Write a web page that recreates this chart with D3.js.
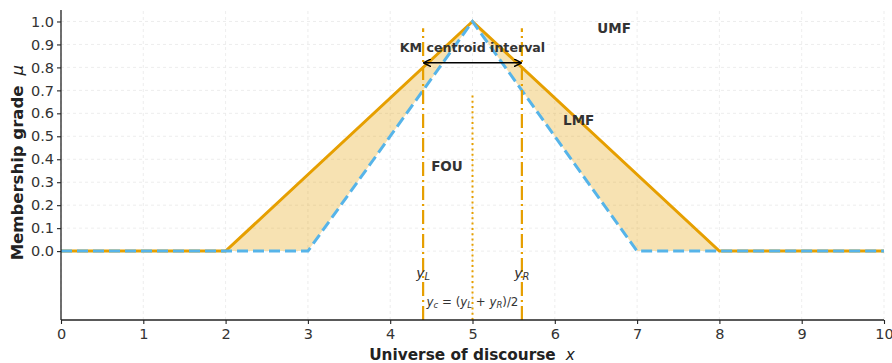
<!DOCTYPE html>
<html><head><meta charset="utf-8">
<script src="https://cdn.jsdelivr.net/npm/d3@7"></script>
<style>body{margin:0;background:#fff}svg{display:block;font-family:"DejaVu Sans",sans-serif}</style>
</head><body><svg id="c" width="892" height="363"></svg>
<script>
const umfX = [0, 2, 5, 8, 10];
const umfY = [0, 0, 1, 0, 0];
const lmfX = [0, 3, 5, 7, 10];
const lmfY = [0, 0, 1, 0, 0];
const xTicks = [0,1,2,3,4,5,6,7,8,9,10];
const yTicks = [0,0.1,0.2,0.3,0.4,0.5,0.6,0.7,0.8,0.9,1.0];
const yL = 4.4, yR = 5.6, yC = 5.0;
const arrowLevel = 0.82;

const svg = d3.select("#c");
const x = d3.scaleLinear().domain([0,10]).range([61,884]);
const y = d3.scaleLinear().domain([-0.3,1.05]).range([320,10]);
const orange = "#E69F00", blue = "#56B4E9";

// grid
const g = svg.append("g");
xTicks.forEach(t => g.append("line").attr("x1",x(t)).attr("x2",x(t)).attr("y1",y(-0.3)).attr("y2",y(1.05))
  .attr("stroke","#e8e8e8").attr("stroke-width",0.8).attr("stroke-dasharray","3,3"));
yTicks.forEach(t => g.append("line").attr("x1",x(0)).attr("x2",x(10)).attr("y1",y(t)).attr("y2",y(t))
  .attr("stroke","#e8e8e8").attr("stroke-width",0.8).attr("stroke-dasharray","3,3"));

// fill between UMF and LMF
const interp = (xs, ys, v) => { for (let i=0;i<xs.length-1;i++){ if (v>=xs[i] && v<=xs[i+1]) return ys[i]+(ys[i+1]-ys[i])*(v-xs[i])/(xs[i+1]-xs[i]); } return 0; };
const breaks = Array.from(new Set(umfX.concat(lmfX))).sort((a,b)=>a-b);
const area = d3.area().x(d=>x(d)).y0(d=>y(interp(lmfX,lmfY,d))).y1(d=>y(interp(umfX,umfY,d)));
svg.append("path").datum(breaks).attr("d",area).attr("fill",orange).attr("fill-opacity",0.3);

const line = d3.line().x(d=>x(d[0])).y(d=>y(d[1]));
svg.append("path").datum(umfX.map((v,i)=>[v,umfY[i]])).attr("d",line).attr("fill","none").attr("stroke",orange).attr("stroke-width",3);
svg.append("path").datum(lmfX.map((v,i)=>[v,lmfY[i]])).attr("d",line).attr("fill","none").attr("stroke",blue).attr("stroke-width",3).attr("stroke-dasharray","11,5");

// vertical lines
[yL,yR].forEach(v => svg.append("line").attr("x1",x(v)).attr("x2",x(v)).attr("y1",y(-0.3)).attr("y2",y(0.97))
  .attr("stroke",orange).attr("stroke-width",2.2).attr("stroke-dasharray","14,4,2,4"));
svg.append("line").attr("x1",x(yC)).attr("x2",x(yC)).attr("y1",y(-0.3)).attr("y2",y(0.69))
  .attr("stroke",orange).attr("stroke-width",2).attr("stroke-dasharray","2,3.3");

// arrow
const defs = svg.append("defs");
defs.append("marker").attr("id","ah").attr("viewBox","0 0 10 10").attr("refX",9).attr("refY",5)
  .attr("markerWidth",8).attr("markerHeight",8).attr("orient","auto-start-reverse").attr("markerUnits","userSpaceOnUse")
  .append("path").attr("d","M0,0 L10,5 L0,10").attr("fill","none").attr("stroke","#000").attr("stroke-width",1.8);
svg.append("line").attr("x1",x(yL)+1).attr("x2",x(yR)-1).attr("y1",y(arrowLevel)).attr("y2",y(arrowLevel))
  .attr("stroke","#000").attr("stroke-width",1.6).attr("marker-start","url(#ah)").attr("marker-end","url(#ah)");

// annotations
const txt = (v,l,s,opts={}) => svg.append("text").attr("x",x(v)).attr("y",y(l)).attr("text-anchor","middle")
  .attr("dominant-baseline","central").attr("font-size",opts.size||13).attr("font-weight",opts.w||"bold").attr("fill","#333").text(s);
txt(5.0, 0.885, "KM centroid interval", {size:12.6});
txt(6.72, 0.97, "UMF", {size:13.5});
txt(6.29, 0.57, "LMF", {size:13.5});
txt(4.69, 0.37, "FOU", {size:13.5});

const sub = (v,l,main,s) => { const t = svg.append("text").attr("x",x(v)).attr("y",y(l)).attr("text-anchor","middle")
  .attr("dominant-baseline","central").attr("font-size",14).attr("fill","#333");
  t.append("tspan").attr("font-style","italic").text(main);
  t.append("tspan").attr("font-style","italic").attr("font-size",10).attr("dy",3).text(s); };
sub(4.4, -0.095, "y", "L");
sub(5.6, -0.095, "y", "R");
{
  const t = svg.append("text").attr("x",x(5.0)).attr("y",y(-0.22)).attr("text-anchor","middle")
    .attr("dominant-baseline","central").attr("font-size",11.8).attr("fill","#333");
  t.append("tspan").attr("font-style","italic").text("y");
  t.append("tspan").attr("font-style","italic").attr("font-size",8.5).attr("dy",3).text("c");
  t.append("tspan").attr("dy",-3).text(" = (");
  t.append("tspan").attr("font-style","italic").text("y");
  t.append("tspan").attr("font-style","italic").attr("font-size",8.5).attr("dy",3).text("L");
  t.append("tspan").attr("dy",-3).text(" + ");
  t.append("tspan").attr("font-style","italic").text("y");
  t.append("tspan").attr("font-style","italic").attr("font-size",8.5).attr("dy",3).text("R");
  t.append("tspan").attr("dy",-3).text(")/2");
}

// axes
const xa = svg.append("g").attr("transform",`translate(0,${y(-0.3)})`)
  .call(d3.axisBottom(x).tickValues(xTicks).tickFormat(d3.format("d")).tickSize(4).tickSizeOuter(0));
const ya = svg.append("g").attr("transform",`translate(${x(0)},0)`)
  .call(d3.axisLeft(y).tickValues(yTicks).tickFormat(d3.format(".1f")).tickSize(4).tickSizeOuter(0));
[xa,ya].forEach(a => { a.select(".domain").attr("stroke","#222").attr("stroke-width",1.3);
  a.selectAll(".tick line").attr("stroke","#222").attr("stroke-width",1.1);
  a.selectAll("text").attr("font-size",14.5).attr("fill","#333").attr("font-family","DejaVu Sans"); });
xa.selectAll("text").attr("dy","0.8em");
xa.select(".domain").attr("d",`M${x(0)},0H${x(10)}`);
ya.select(".domain").attr("d",`M0,${y(-0.3)}V${y(1.05)}`);

// axis labels
const xl = svg.append("text").attr("x",472).attr("y",360).attr("text-anchor","middle").attr("font-size",15.3).attr("font-weight","bold").attr("fill","#222");
xl.append("tspan").text("Universe of discourse");
xl.append("tspan").attr("font-style","italic").attr("font-weight","normal").attr("dx",10).text("x");
const yl = svg.append("text").attr("transform",`translate(23,${y(0.385)}) rotate(-90)`).attr("text-anchor","middle").attr("font-size",16.5).attr("font-weight","bold").attr("fill","#222");
yl.append("tspan").text("Membership grade");
yl.append("tspan").attr("font-style","italic").attr("font-weight","normal").attr("dx",10).text("μ");
</script></body></html>
